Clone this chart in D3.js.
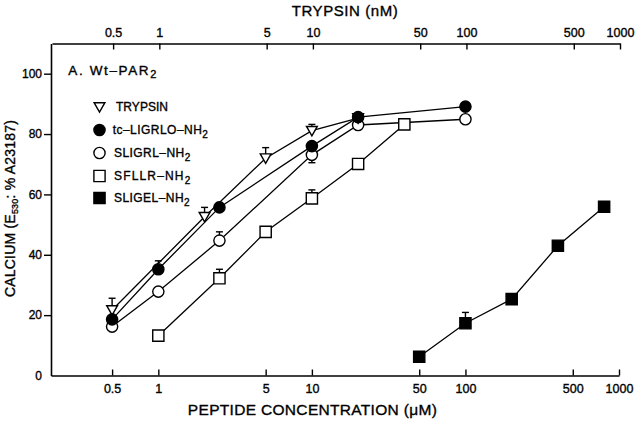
<!DOCTYPE html>
<html><head><meta charset="utf-8">
<script src="https://cdn.jsdelivr.net/npm/d3@7"></script>
<style>
body{margin:0;background:#fff;}
svg{display:block;font-family:"Liberation Sans",Arial,Helvetica,sans-serif;}
svg text{stroke:#000;stroke-width:0.35px;fill:#000;}
</style></head><body>
<svg id="chart" width="640" height="421"></svg>
<script>
// ---- data ----
const xTickValues = [0.5, 1, 5, 10, 50, 100, 500, 1000];
const yTickValues = [0, 20, 40, 60, 80, 100];

const trypsinConc = [0.5, 2, 5, 10, 20];          // nM
const trypsinVal  = [21.7, 52.6, 72.0, 81.1, 85.3];
const trypsinErr  = [3.9, 3.1, 3.5, 2.1, 0];

const tcConc = [0.5, 1, 2.5, 10, 20, 100];          // µM
const tcVal  = [18.6, 35.2, 55.7, 76.0, 85.6, 89.1];
const tcErr  = [0, 2.8, 1.6, 0, 0, 0];

const sligrlConc = [0.5, 1, 2.5, 10, 20, 100];
const sligrlVal  = [16.2, 27.8, 44.7, 73.1, 83.0, 84.9];
const sligrlErr  = [0, 0, 2.9, -2.6, 0, 0];

const sfllrConc = [1, 2.5, 5, 10, 20, 40];
const sfllrVal  = [13.2, 32.2, 47.6, 58.7, 70.1, 83.2];
const sfllrErr  = [0, 3.0, 0, 2.8, 0, 0];

const sligelConc = [50, 100, 200, 400, 800];
const sligelVal  = [6.2, 17.3, 25.3, 43.0, 55.9];
const sligelErr  = [0, 3.6, 0, 0, 0];

const legendLabels = ["TRYPSIN", "tc\u2013LIGRLO\u2013NH", "SLIGRL\u2013NH", "SFLLR\u2013NH", "SLIGEL\u2013NH"];

// ---- setup ----
const svg = d3.select("#chart");
const x = d3.scaleLog().domain([0.2, 1000]).range([51, 619]);
const xTop = d3.scaleLog().domain([0.2, 1000]).range([52, 620]);
const y = d3.scaleLinear().domain([0, 110]).range([375.5, 43.5]);

function fitWidth(sel, target) {
  const node = sel.node();
  const w = node.getBBox().width;
  const n = node.textContent.length;
  if (n > 1) sel.attr("letter-spacing", ((target - w) / (n - 1)).toFixed(3));
}

// axes
const gB = svg.append("g").attr("transform", "translate(0,375.5)")
  .call(d3.axisBottom(x).tickValues(xTickValues).tickFormat(d3.format("")).tickSizeInner(-6).tickSizeOuter(0).tickPadding(9));
const gT = svg.append("g").attr("transform", "translate(0,43.5)")
  .call(d3.axisTop(xTop).tickValues(xTickValues).tickFormat(d3.format("")).tickSizeInner(-6).tickSizeOuter(0).tickPadding(7));
const gL = svg.append("g").attr("transform", "translate(51,0)")
  .call(d3.axisLeft(y).tickValues(yTickValues).tickSizeInner(7).tickSizeOuter(0).tickPadding(2));
gL.selectAll(".tick").filter(d => d === 0).select("line").remove();

[gB, gT, gL].forEach(g => {
  g.select(".domain").attr("stroke", "#000").attr("stroke-width", 1.6);
  g.selectAll(".tick line").attr("stroke", "#000").attr("stroke-width", 1.4);
  g.selectAll(".tick text").attr("fill", "#000").attr("font-family", "Liberation Sans, Arial, sans-serif");
});
gB.selectAll(".tick text").attr("font-size", 12.5);
gT.selectAll(".tick text").attr("font-size", 12.5);
gL.selectAll(".tick text").attr("font-size", 12);

// axis titles
const tt = svg.append("text").attr("x", 345).attr("y", 16).attr("text-anchor", "middle")
  .attr("font-size", 15).text("TRYPSIN (nM)");
fitWidth(tt, 106);
const bt = svg.append("text").attr("x", 312.5).attr("y", 414.5).attr("text-anchor", "middle")
  .attr("font-size", 15.5).text("PEPTIDE CONCENTRATION (\u03bcM)");
fitWidth(bt, 249);
const yt = svg.append("text").attr("transform", "translate(15,208.5) rotate(-90)").attr("text-anchor", "middle")
  .attr("font-size", 14);
yt.append("tspan").text("CALCIUM (E");
yt.append("tspan").attr("font-size", 9).attr("dy", 2.5).text("530");
yt.append("tspan").attr("dy", -2.5).text(": % A23187)");
fitWidth(yt, 177);

// panel label
const pl = svg.append("text").attr("x", 68.3).attr("y", 75).attr("font-size", 13.5);
pl.append("tspan").text("A. Wt\u2013PAR");
pl.append("tspan").attr("font-size", 11).attr("dy", 3).text("2");
fitWidth(pl, 88);

// ---- series ----
function zip(c, v, e) { return c.map((d, i) => ({ c: d, v: v[i], e: e[i] })); }
function markerPath(shape) {
  if (shape === "circle") return d3.symbol(d3.symbolCircle, Math.PI * 5.6 * 5.6)();
  if (shape === "square") return "M-5.6,-5.6H5.6V5.6H-5.6Z";
  return "M-5.4,-4.3H5.4L0,5.2Z"; // inverted triangle
}
const series = [
  { data: zip(sligrlConc, sligrlVal, sligrlErr), shape: "circle", fill: "#fff" },
  { data: zip(trypsinConc, trypsinVal, trypsinErr), shape: "triangle", fill: "#fff" },
  { data: zip(sfllrConc, sfllrVal, sfllrErr), shape: "square", fill: "#fff" },
  { data: zip(sligelConc, sligelVal, sligelErr), shape: "square", fill: "#000" },
  { data: zip(tcConc, tcVal, tcErr), shape: "circle", fill: "#000" }
];
const line = d3.line().x(d => x(d.c)).y(d => y(d.v));
const gLines = svg.append("g");
const gErr = svg.append("g");
const gMarks = svg.append("g");
series.forEach(s => {
  gLines.append("path").attr("d", line(s.data)).attr("fill", "none")
    .attr("stroke", "#000").attr("stroke-width", 1.3);
  s.data.filter(d => d.e !== 0).forEach(d => {
    const g = gErr.append("g").attr("stroke", "#000").attr("stroke-width", 1.4);
    g.append("line").attr("x1", x(d.c)).attr("x2", x(d.c)).attr("y1", y(d.v)).attr("y2", y(d.v + d.e));
    g.append("line").attr("x1", x(d.c) - 3.5).attr("x2", x(d.c) + 3.5).attr("y1", y(d.v + d.e)).attr("y2", y(d.v + d.e));
  });
  gMarks.append("g").selectAll("path").data(s.data).join("path")
    .attr("transform", d => `translate(${x(d.c)},${y(d.v)})`)
    .attr("d", markerPath(s.shape))
    .attr("fill", s.fill).attr("stroke", "#000").attr("stroke-width", 1.4);
});

// ---- legend ----
const legendShapes = [
  { shape: "triangle", fill: "#fff" }, { shape: "circle", fill: "#000" },
  { shape: "circle", fill: "#fff" }, { shape: "square", fill: "#fff" }, { shape: "square", fill: "#000" }
];
const legendY = [107, 130, 153, 176, 198];
const legendX = [116, 112.7, 114, 114, 114];
const legendW = [52, 95.6, 76.7, 76.7, 76];
legendLabels.forEach((lab, i) => {
  svg.append("path").attr("transform", `translate(99.5,${legendY[i]})`)
    .attr("d", markerPath(legendShapes[i].shape))
    .attr("fill", legendShapes[i].fill).attr("stroke", "#000").attr("stroke-width", 1.4);
  const t = svg.append("text").attr("x", legendX[i]).attr("y", legendY[i] + 4.3).attr("font-size", 12);
  t.append("tspan").text(lab);
  if (i > 0) t.append("tspan").attr("font-size", 10).attr("dy", 3.5).text("2");
  fitWidth(t, legendW[i]);
});
</script>
</body></html>
